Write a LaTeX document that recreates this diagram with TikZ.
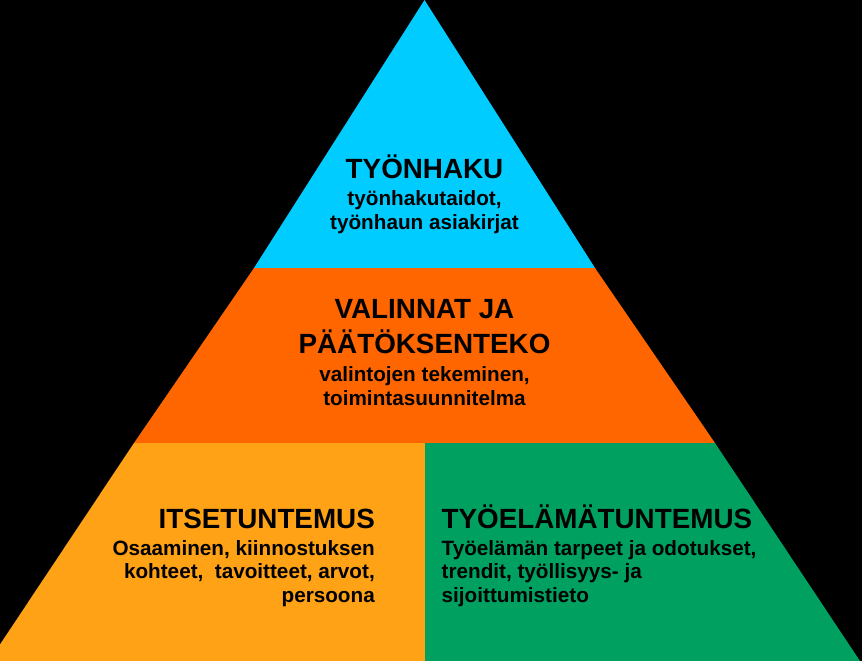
\documentclass[tikz,border=0pt]{standalone}
\usepackage{fontspec}
\setmainfont{Liberation Sans}
\definecolor{cyanL}{HTML}{00CCFF}
\definecolor{orangeL}{HTML}{FF6600}
\definecolor{amberL}{HTML}{FFA216}
\definecolor{greenL}{HTML}{00A160}
\begin{document}
\begin{tikzpicture}[x=1pt,y=-1pt,
  ttl/.style={font=\bfseries\fontsize{27.8}{30}\selectfont, inner sep=0pt, text=black},
  sub/.style={font=\bfseries\fontsize{20.7}{24}\selectfont, inner sep=0pt, text=black}]
\fill[black] (0,0) rectangle (862,661);
\useasboundingbox (0,0) rectangle (862,661);
\begin{scope}
\clip (0,0) rectangle (862,661);
\fill[cyanL] (424.5,0) -- (254,268) -- (595,268) -- cycle;
\fill[orangeL] (254,268) -- (595,268) -- (715,443) -- (134,443) -- cycle;
\fill[amberL] (134,443) -- (425,443) -- (425,661) -- (-11,661) -- cycle;
\fill[greenL] (425,443) -- (715,443) -- (860,661) -- (425,661) -- cycle;
\end{scope}
% top layer
\node[ttl, anchor=base] (t1) at (424.5,178) {TYÖNHAKU};
\node[sub, anchor=base] (t2) at (424.5,205) {työnhakutaidot,};
\node[sub, anchor=base] (t3) at (424.5,229.5) {työnhaun asiakirjat};
% middle layer
\node[ttl, anchor=base] (m1) at (424.5,318) {VALINNAT JA};
\node[ttl, anchor=base] (m2) at (424.5,353) {PÄÄTÖKSENTEKO};
\node[sub, anchor=base] (m3) at (424.5,381.5) {valintojen tekeminen,};
\node[sub, anchor=base] (m4) at (424.5,405) {toimintasuunnitelma};
% bottom left
\node[ttl, anchor=base east] (l1) at (375,528) {ITSETUNTEMUS};
\node[sub, anchor=base east] (l2) at (375,555) {Osaaminen, kiinnostuksen};
\node[sub, anchor=base east] (l3) at (375,578.5) {kohteet,\ \ tavoitteet, arvot,};
\node[sub, anchor=base east] (l4) at (375,602) {persoona};
% bottom right
\node[ttl, anchor=base west] (r1) at (441.5,528) {TYÖELÄMÄTUNTEMUS};
\node[sub, anchor=base west] (r2) at (441.5,555) {Työelämän tarpeet ja odotukset,};
\node[sub, anchor=base west] (r3) at (441.5,578.5) {trendit, työllisyys- ja};
\node[sub, anchor=base west] (r4) at (441.5,602) {sijoittumistieto};
\end{tikzpicture}
\end{document}
